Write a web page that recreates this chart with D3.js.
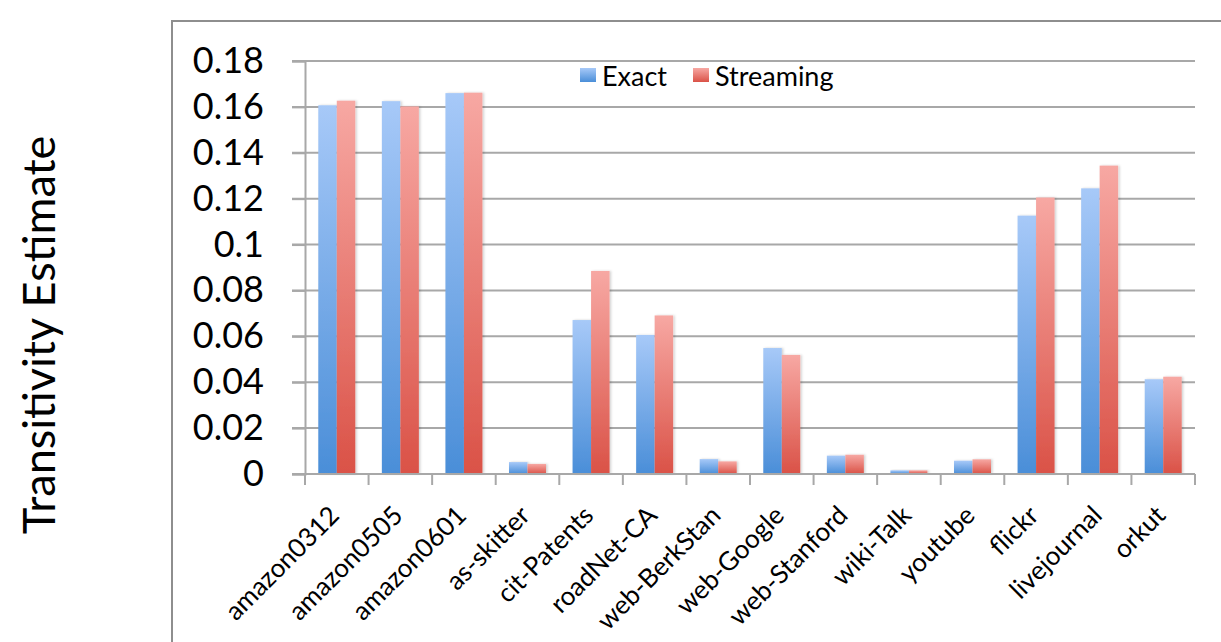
<!DOCTYPE html>
<html>
<head>
<meta charset="utf-8">
<script src="https://cdn.jsdelivr.net/npm/d3@7"></script>
<style>
html,body{margin:0;padding:0;background:#fff;}
svg{display:block;}
text{font-family:Lato,"Open Sans",sans-serif;fill:#000;}
</style>
</head>
<body>
<svg id="chart" width="1221" height="642"></svg>
<script>
const categories = ["amazon0312","amazon0505","amazon0601","as-skitter","cit-Patents","roadNet-CA","web-BerkStan","web-Google","web-Stanford","wiki-Talk","youtube","flickr","livejournal","orkut"];
const exactValues = [0.1607,0.1625,0.1660,0.0052,0.0671,0.0606,0.0065,0.0549,0.0080,0.0016,0.0058,0.1126,0.1245,0.0413];
const streamingValues = [0.1627,0.1602,0.1662,0.0044,0.0885,0.0691,0.0055,0.0519,0.0084,0.0016,0.0064,0.1205,0.1344,0.0424];
const seriesNames = ["Exact","Streaming"];
const yTicks = [0,0.02,0.04,0.06,0.08,0.1,0.12,0.14,0.16,0.18];
const yTickLabels = ["0","0.02","0.04","0.06","0.08","0.1","0.12","0.14","0.16","0.18"];
const yTitle = "Transitivity Estimate";

(function(){
const svg = d3.select("#chart");
const pLeft = 305, pRight = 1195, pTop = 61, pBottom = 474;

// frame
svg.append("rect").attr("x",172).attr("y",21).attr("width",1100).attr("height",700)
  .attr("fill","none").attr("stroke","#8e8e8e").attr("stroke-width",2);

const x = d3.scaleBand().domain(categories).range([pLeft,pRight]).paddingInner(0).paddingOuter(0);
const x1 = d3.scaleBand().domain(seriesNames).range([x.bandwidth()*0.209, x.bandwidth()*0.791]);
const y = d3.scaleLinear().domain([0,0.18]).range([pBottom,pTop]);

const defs = svg.append("defs");
const gb = defs.append("linearGradient").attr("id","gBlue").attr("x1",0).attr("y1",0).attr("x2",0).attr("y2",1);
gb.append("stop").attr("offset","0%").attr("stop-color","#a7c9f8");
gb.append("stop").attr("offset","100%").attr("stop-color","#4a8ed8");
const gr = defs.append("linearGradient").attr("id","gRed").attr("x1",0).attr("y1",0).attr("x2",0).attr("y2",1);
gr.append("stop").attr("offset","0%").attr("stop-color","#f7a8a3");
gr.append("stop").attr("offset","100%").attr("stop-color","#da5247");
const f = defs.append("filter").attr("id","shadow").attr("x","-20%").attr("y","-20%").attr("width","160%").attr("height","140%");
f.append("feDropShadow").attr("dx",1.5).attr("dy",0).attr("stdDeviation",1.2).attr("flood-color","#000").attr("flood-opacity",0.18);

// gridlines
svg.append("g").selectAll("line").data(yTicks.slice(1)).join("line")
  .attr("x1",pLeft-13).attr("x2",pRight).attr("y1",d=>y(d)).attr("y2",d=>y(d))
  .attr("stroke","#a8a8a8").attr("stroke-width",2);

// y axis
const yAxis = d3.axisLeft(y).tickValues(yTicks).tickSize(13).tickPadding(28)
  .tickFormat((d,i)=>yTickLabels[i]);
const gy = svg.append("g").attr("transform",`translate(${pLeft},0)`).call(yAxis);
gy.select(".domain").attr("stroke","#a8a8a8").attr("stroke-width",2);
gy.selectAll(".tick line").attr("stroke","#a8a8a8").attr("stroke-width",2);
gy.selectAll(".tick text").attr("font-size",36).attr("font-family","Lato").attr("fill","#000");

// bars
const colors = {Exact:"url(#gBlue)", Streaming:"url(#gRed)"};
const rows = categories.map((c,i)=>({cat:c, vals:[{s:"Exact",v:exactValues[i]},{s:"Streaming",v:streamingValues[i]}]}));
const grp = svg.append("g").selectAll("g").data(rows).join("g")
  .attr("transform",d=>`translate(${x(d.cat)},0)`);
grp.selectAll("rect").data(d=>d.vals).join("rect")
  .attr("x",d=>x1(d.s)).attr("width",x1.bandwidth())
  .attr("y",d=>y(d.v)).attr("height",d=>y(0)-y(d.v))
  .attr("fill",d=>colors[d.s]).attr("filter","url(#shadow)");

// x axis
const xTickPos = categories.map(c=>x(c)).concat([pRight]);
const gx = svg.append("g");
gx.append("line").attr("x1",pLeft-13).attr("x2",pRight).attr("y1",pBottom).attr("y2",pBottom)
  .attr("stroke","#a8a8a8").attr("stroke-width",2);
gx.selectAll("line.t").data(xTickPos).join("line").attr("class","t")
  .attr("x1",d=>d).attr("x2",d=>d).attr("y1",pBottom).attr("y2",pBottom+11)
  .attr("stroke","#a8a8a8").attr("stroke-width",2);
gx.selectAll("text").data(categories).join("text")
  .attr("transform",d=>`translate(${x(d)+x.bandwidth()/2+4},${pBottom+43}) rotate(-45)`)
  .attr("text-anchor","end").attr("font-size",26).text(d=>d);

// y title
svg.append("text").attr("transform","translate(55,335) rotate(-90)")
  .attr("text-anchor","middle").attr("font-size",45).text(yTitle);

// legend
const legend = svg.append("g");
const legItems = [{s:"Exact",x:580,fill:"url(#gBlue)"},{s:"Streaming",x:693,fill:"url(#gRed)"}];
legend.selectAll("rect").data(legItems).join("rect")
  .attr("x",d=>d.x).attr("y",68).attr("width",16).attr("height",14).attr("fill",d=>d.fill);
legend.selectAll("text").data(legItems).join("text")
  .attr("x",d=>d.x+22).attr("y",86).attr("font-size",27).text(d=>d.s);
})();
</script>
</body>
</html>
